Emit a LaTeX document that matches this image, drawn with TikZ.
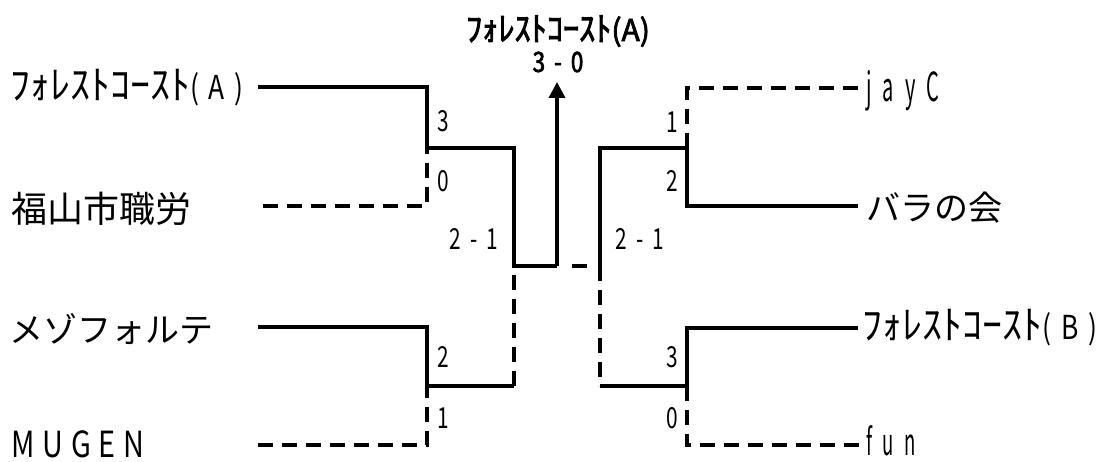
\documentclass[tikz,border=0pt]{standalone}
\usepackage{fontspec}
\usetikzlibrary{arrows.meta}
\newfontfamily\jp{Noto Sans CJK JP}
\newfontfamily\jpwide{Noto Sans CJK JP}[FakeStretch=1.0]
\newfontfamily\jpparen{Noto Sans CJK JP}[FakeStretch=0.8,LetterSpace=30]
\newfontfamily\jptitle{Noto Sans CJK JP}[FakeStretch=0.95,FakeBold=2.5]
\newfontfamily\jptitleb{Noto Sans CJK JP}[FakeStretch=1.0,FakeBold=2.5]
\newfontfamily\digfont{Noto Sans CJK JP}[FakeStretch=0.72]
\newfontfamily\digbold{Noto Sans CJK JP}[FakeStretch=0.8,FakeBold=2.5]
\newfontfamily\latsp{Noto Sans CJK JP}[FakeStretch=0.5,LetterSpace=28]
\newfontfamily\latcap{Noto Sans CJK JP}[FakeStretch=0.8,LetterSpace=22]
\newcommand\widesp{\spaceskip 9pt\relax}
\newcommand\scorefont{\fontsize{29}{29}\selectfont\digfont\widesp}
\newcommand\finalfont{\fontsize{28}{28}\selectfont\digbold\widesp}
\newcommand\kanafont{\fontsize{40}{40}\selectfont\jpwide}
\newcommand\parenfont{\fontsize{33}{33}\selectfont\jpparen}
\begin{document}
\begin{tikzpicture}[x=1pt,y=-1pt,
  win/.style={line width=3.5pt},
  lose/.style={line width=3.5pt,dash pattern=on 15pt off 9pt},
  gap/.style={line width=3.5pt,dash pattern=on 0pt off 15pt on 15pt off 20pt},
  team/.style={inner sep=0pt,anchor=west},
  bigjp/.style={font=\fontsize{34}{34}\selectfont\jp},
  score/.style={inner sep=0pt,font=\scorefont}]
\useasboundingbox (0,0) rectangle (1118,462);
% junction points
\coordinate (a1) at (258,87);
\coordinate (a2) at (427,87);
\coordinate (b1) at (263,206);
\coordinate (b2) at (427,206);
\coordinate (m1) at (427,148);
\coordinate (m1r) at (514,148);
\coordinate (c1) at (258,327);
\coordinate (c2) at (427,327);
\coordinate (d1) at (258,445);
\coordinate (d2) at (427,445);
\coordinate (m2) at (427,386);
\coordinate (m2r) at (514,386);
\coordinate (f1) at (514,266);
\coordinate (fc) at (557,266);
\coordinate (top) at (557,82);
\coordinate (f2) at (600,266);
\coordinate (n3) at (600,278);
\coordinate (n1) at (600,148);
\coordinate (n1r) at (687,148);
\coordinate (n2) at (600,386);
\coordinate (n2r) at (687,386);
\coordinate (e1) at (687,88);
\coordinate (e2) at (860,88);
\coordinate (g1) at (687,206);
\coordinate (g2) at (858,206);
\coordinate (h1) at (687,328);
\coordinate (h2) at (858,328);
\coordinate (k1) at (687,445);
\coordinate (k2) at (860,445);
% team names
\node[team] (ta) at (10,88) {{\kanafont ﾌｫﾚｽﾄｺｰｽﾄ}{\parenfont (A)}};
\node[team,font=\fontsize{36}{36}\selectfont\jp] (tb) at (11,209) {福山市職労};
\node[team,bigjp] (tc) at (9,329) {メゾフォルテ};
\node[team,font=\fontsize{36}{36}\selectfont\latcap] (td) at (11,444) {MUGEN};
\node[team,font=\fontsize{40}{40}\selectfont\latsp] (te) at (866,91) {jayC};
\node[team,bigjp] (tg) at (866,208) {バラの会};
\node[team] (th) at (862,328) {{\kanafont ﾌｫﾚｽﾄｺｰｽﾄ}{\parenfont (B)}};
\node[team,font=\fontsize{37}{37}\selectfont\latsp] (tk) at (866,441) {fun};
% title
\node[inner sep=0pt] (title) at (558,31) {{\fontsize{34}{34}\selectfont\jptitle ﾌｫﾚｽﾄｺｰｽﾄ}{\fontsize{30}{30}\selectfont\jptitleb (A)}};
\node[inner sep=0pt,font=\finalfont] (final) at (558,62) {3 - 0};
% scores
\node[score] (s1) at (443,121) {3};
\node[score] (s2) at (443,181) {0};
\node[score] (s3) at (474,239) {2 - 1};
\node[score] (s4) at (443,357) {2};
\node[score] (s5) at (443,418) {1};
\node[score] (s6) at (672,122) {1};
\node[score] (s7) at (672,181) {2};
\node[score] (s8) at (640,239) {2 - 1};
\node[score] (s9) at (672,357) {3};
\node[score] (s10) at (672,418) {0};
% brackets
\draw[win] (a1) -- (a2) -- (m1) -- (m1r) -- (f1) -- (fc);
\draw[win,-{Triangle[width=16pt,length=16pt]}] (fc) -- (top);
\draw[lose] (b1) -- (b2) -- (m1);
\draw[win] (c1) -- (c2) -- (m2) -- (m2r);
\draw[lose] (d1) -- (d2) -- (m2);
\draw[lose] (m2r) -- (f1);
\draw[gap] (fc) -- (f2);
\draw[win] (n3) -- (f2) -- (n1) -- (n1r) -- (g1) -- (g2);
\draw[lose] (n1r) -- (e1) -- (e2);
\draw[lose] (f2) -- (n2);
\draw[win] (n2) -- (n2r) -- (h1) -- (h2);
\draw[lose] (n2r) -- (k1) -- (k2);
\end{tikzpicture}
\end{document}
